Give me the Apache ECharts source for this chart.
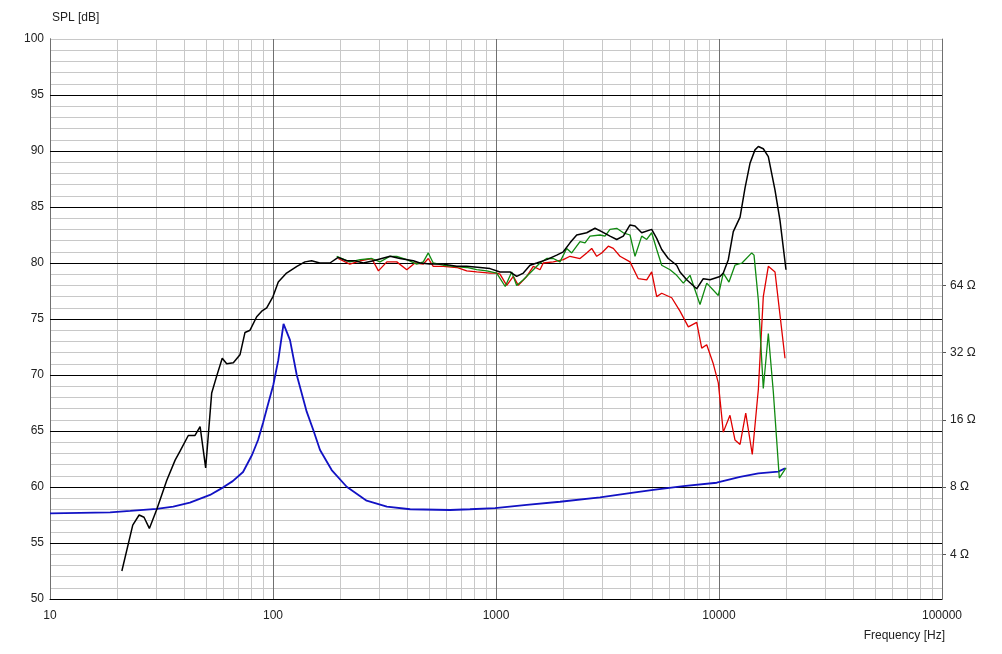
<!DOCTYPE html>
<html><head><meta charset="utf-8">
<script src="https://cdn.jsdelivr.net/npm/echarts@6/dist/echarts.min.js"></script>
<style>html,body{margin:0;padding:0;background:#fff}#c{width:1002px;height:654px}</style>
</head><body><div id="c"></div>
<script>
// ---- data ----
const blackFreq = [21,23.5,25.1,26.4,27.9,30.1,33.4,36.4,38.3,41.7,44.7,47.1,49.9,53.1,55.9,59.2,62,66.4,71.1,74.9,78.9,84.5,89,93.7,100,105.6,115,128,139,149,162,180,196,214,233,254,282,335,371,426,456,506,580,667,739,848,940,1042,1156,1238,1326,1421,1523,1688,1872,2004,2147,2301,2551,2779,2978,3245,3478,3723,3990,4201,4502,4990,5256,5534,5922,6460,6685,7164,7943,8503,9112,10104,10454,11010,11590,12430,13085,13772,14500,15010,15800,16640,17830,18770,19970];
const blackSpl = [52.5,56.6,57.5,57.3,56.3,58.0,60.6,62.4,63.2,64.6,64.6,65.4,61.7,68.4,69.9,71.5,71.0,71.1,71.8,73.8,74.0,75.2,75.7,76.0,77.0,78.3,79.1,79.7,80.1,80.2,80.0,80.0,80.5,80.2,80.2,80.0,80.2,80.6,80.4,80.2,80.0,79.9,79.9,79.7,79.7,79.6,79.5,79.2,79.2,78.8,79.1,79.8,80.0,80.3,80.7,81.0,81.8,82.5,82.7,83.1,82.8,82.4,82.1,82.4,83.4,83.3,82.7,83.0,82.2,81.2,80.4,79.8,79.2,78.5,77.7,78.6,78.5,78.8,79.1,80.3,82.8,84.1,86.7,88.9,90.1,90.4,90.2,89.5,86.5,83.8,79.4];

const greenFreq = [193,221,246,277,302,335,359,398,441,472,497,523,580,644,739,819,909,1007,1100,1176,1238,1326,1421,1575,1688,1807,1936,2075,2185,2381,2507,2640,2927,3082,3245,3478,3723,3990,4201,4502,4741,4990,5256,5534,6031,6460,6918,7413,8219,8809,9930,10454,11083,11793,12680,14020,14355,15010,15800,16640,17520,18640,19970];
const greenSpl = [80.6,80.1,80.3,80.4,80.1,80.6,80.6,80.3,79.9,80.1,80.9,80.0,79.8,79.7,79.6,79.4,79.3,79.1,77.9,79.2,78.0,78.5,79.1,80.0,80.4,80.4,80.1,81.3,80.9,81.9,81.8,82.4,82.5,82.4,83.0,83.1,82.7,82.5,80.6,82.4,82.1,82.7,81.2,79.8,79.4,78.9,78.2,78.9,76.3,78.2,77.1,79.1,78.3,79.8,80.0,80.9,80.7,76.7,68.8,73.7,68.5,60.8,61.7];

const redFreq = [196,221,246,277,297,324,359,398,433,472,497,523,580,667,739,819,940,1007,1042,1117,1196,1259,1373,1470,1575,1629,1807,2004,2147,2381,2551,2686,2829,2978,3189,3357,3598,3990,4346,4741,4990,5256,5534,6137,6685,7286,7943,8365,8809,9428,9930,10454,11200,11793,12430,13180,14100,15010,15800,16640,17830,19770];
const redSpl = [80.4,79.9,80.2,80.4,79.3,80.1,80.1,79.4,80.0,79.9,80.4,79.7,79.7,79.6,79.3,79.2,79.1,79.1,79.0,78.0,78.8,78.0,78.8,79.7,79.4,80.0,80.1,80.3,80.6,80.4,80.9,81.3,80.6,80.9,81.5,81.3,80.6,80.1,78.6,78.5,79.2,77.0,77.3,76.9,75.7,74.3,74.7,72.4,72.7,71.0,69.3,64.9,66.4,64.2,63.8,66.6,62.9,68.7,77.0,79.7,79.2,71.5];

const impFreq = [10,18.6,22.9,30.1,35.7,42.4,52.2,59.8,66,73.4,80.5,85.7,90.2,94,100.3,105.6,111.5,119.2,127.8,141.6,151.6,162.5,183.3,214,263,324,412,622,764,990,1373,1936,2927,4127,5075,6918,9765,12430,15010,18450,19770];
const impOhm = [6.09,6.16,6.25,6.38,6.53,6.81,7.37,7.97,8.5,9.34,11.13,12.99,15.48,18.08,22.9,29.6,43.0,36.4,25.4,17.4,14.4,11.72,9.53,8.02,6.95,6.53,6.36,6.31,6.36,6.43,6.65,6.87,7.19,7.55,7.76,8.08,8.36,8.89,9.21,9.37,9.70];

const xTickLabels = [10,100,1000,10000,100000];
const splTickLabels = [50,55,60,65,70,75,80,85,90,95,100];
const ohmTickLabels = [4,8,16,32,64];

// ---- chart ----
const FONT = "'Liberation Sans', Arial, sans-serif";
function pairs(f, v) { return f.map((x, i) => [x, v[i]]); }
const minorX = [];
for (let d = 10; d < 100000; d *= 10) for (let k = 2; k <= 9; k++) minorX.push(k * d);
const majorH = splTickLabels.filter(v => v > 50 && v < 100);

const chart = echarts.init(document.getElementById('c'), null, {renderer: 'canvas'});
chart.setOption({
  animation: false,
  backgroundColor: '#ffffff',
  textStyle: {fontFamily: FONT},
  title: [
    {text: 'SPL [dB]', left: 52, top: 12, padding: 0,
     textStyle: {fontSize: 12, fontWeight: 'normal', color: '#222', fontFamily: FONT}},
    {text: 'Frequency [Hz]', right: 57, top: 630, padding: 0,
     textStyle: {fontSize: 12, fontWeight: 'normal', color: '#222', fontFamily: FONT}}
  ],
  grid: {left: 50, right: 60, top: 39, bottom: 55, containLabel: false},
  xAxis: {
    type: 'log', logBase: 10, min: 10, max: 100000,
    axisLine: {show: true, onZero: false, lineStyle: {color: '#000', width: 1}},
    axisTick: {show: false},
    axisLabel: {color: '#222', fontSize: 12, margin: 11, fontFamily: FONT,
      customValues: xTickLabels, formatter: v => String(Math.round(v))},
    splitLine: {show: true, lineStyle: {color: '#707070', width: 1}},
    z: 2
  },
  yAxis: [
    {
      type: 'value', min: 50, max: 100, interval: 1,
      axisLine: {show: true, onZero: false, lineStyle: {color: '#000', width: 1}},
      axisTick: {show: false},
      axisLabel: {color: '#222', fontSize: 12, margin: 6, fontFamily: FONT,
        formatter: v => (splTickLabels.indexOf(v) >= 0 ? String(v) : '')},
      splitLine: {show: true, lineStyle: {color: '#c8c8c8', width: 1}},
      z: 1
    },
    {
      type: 'log', logBase: 2, position: 'right',
      min: 8 * Math.pow(2, -10 / 6), max: 8 * Math.pow(2, 40 / 6),
      axisLine: {show: true, lineStyle: {color: '#8a8a8a', width: 1}},
      axisTick: {show: true, customValues: ohmTickLabels, length: 4, lineStyle: {color: '#555'}},
      axisLabel: {customValues: ohmTickLabels, color: '#222', fontSize: 12, margin: 8, fontFamily: FONT,
        formatter: v => Math.round(v) + ' Ω'},
      splitLine: {show: false},
      z: 1
    }
  ],
  series: [
    {
      type: 'line', data: [], silent: true, z: 1,
      markLine: {silent: true, symbol: 'none', z: 1, animation: false,
        label: {show: false}, lineStyle: {color: '#c8c8c8', width: 1, type: 'solid'},
        emphasis: {disabled: true},
        data: minorX.map(v => ({xAxis: v}))}
    },
    {
      type: 'line', data: [], silent: true, z: 2,
      markLine: {silent: true, symbol: 'none', z: 2, animation: false,
        label: {show: false}, lineStyle: {color: '#000', width: 1, type: 'solid'},
        emphasis: {disabled: true},
        data: majorH.map(v => ({yAxis: v}))}
    },
    {name: 'impedance', type: 'line', yAxisIndex: 1, data: pairs(impFreq, impOhm), showSymbol: false, symbol: 'none',
     lineStyle: {color: '#1212c4', width: 1.8}, z: 6, silent: true},
    {name: 'red', type: 'line', data: pairs(redFreq, redSpl), showSymbol: false, symbol: 'none',
     lineStyle: {color: '#e00000', width: 1.3}, z: 7, silent: true},
    {name: 'green', type: 'line', data: pairs(greenFreq, greenSpl), showSymbol: false, symbol: 'none',
     lineStyle: {color: '#108a10', width: 1.3}, z: 8, silent: true},
    {name: 'black', type: 'line', data: pairs(blackFreq, blackSpl), showSymbol: false, symbol: 'none',
     lineStyle: {color: '#000000', width: 1.5}, z: 9, silent: true}
  ]
});
</script></body></html>
